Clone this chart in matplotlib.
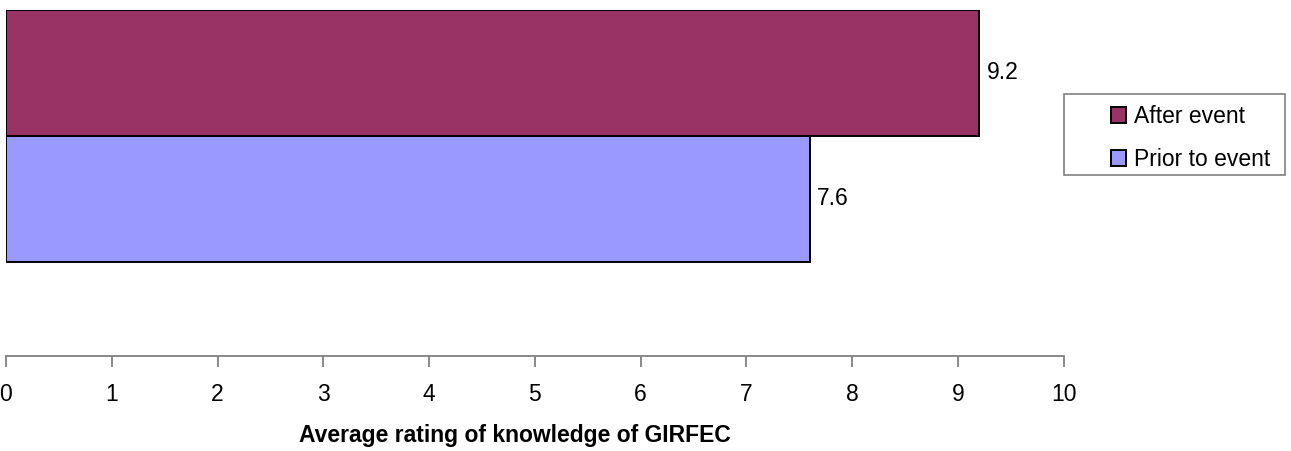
import matplotlib.pyplot as plt
from matplotlib.patches import Rectangle

plt.rcParams['font.family'] = ['Liberation Sans', 'DejaVu Sans']

series = ['Prior to event', 'After event']
values = [7.6, 9.2]
colours = ['#9999FF', '#993366']
xticks = list(range(0, 11))

FS = 16.5
W, H = 1291, 451
fig = plt.figure(figsize=(W / 100, H / 100), dpi=100)
ax = fig.add_axes([6 / W, (H - 355.5) / H, (1063.7 - 6) / W, (355.5 - 10) / H])

bars = []
for i, (name, val, col) in enumerate(zip(series, values, colours)):
    b = ax.barh(i, val, height=1.0, color=col, edgecolor='black', linewidth=1.4, label=name)
    bars.append(b)
    ax.text(val + 0.07, i, f'{val:.1f}', va='center', ha='left', fontsize=FS)

ax.set_xlim(0, 10)
ax.set_ylim(-1.246, 1.5)
ax.set_xticks(xticks)
ax.set_xticklabels([str(t) for t in xticks], fontsize=FS)
ax.set_yticks([])
for s in ['top', 'right', 'left']:
    ax.spines[s].set_visible(False)
ax.spines['bottom'].set_color('#808080')
ax.spines['bottom'].set_linewidth(1.3)
ax.tick_params(axis='x', direction='out', length=8, width=1.3, color='#808080', pad=11.5)
ax.set_xlabel('Average rating of knowledge of GIRFEC', fontsize=FS, fontweight='bold')
ax.xaxis.set_label_coords((515 - 6) / (1063.7 - 6), (355.5 - 424) / 345.5)

# legend box (wider on the left than matplotlib's padding allows)
fig.patches.append(Rectangle((1064 / W, (H - 175) / H), (1285 - 1064) / W, (175 - 94) / H,
                             transform=fig.transFigure, facecolor='white',
                             edgecolor='#808080', linewidth=1.2))
handles = [bars[1], bars[0]]
leg = fig.legend(handles, ['After event', 'Prior to event'], loc='upper left',
                 bbox_to_anchor=(1111 / W, (H - 105) / H), fontsize=FS, frameon=False,
                 handlelength=0.65, handleheight=0.65, handletextpad=0.35,
                 labelspacing=0.88, borderpad=0, borderaxespad=0)

fig.savefig('out.png', dpi=100)
